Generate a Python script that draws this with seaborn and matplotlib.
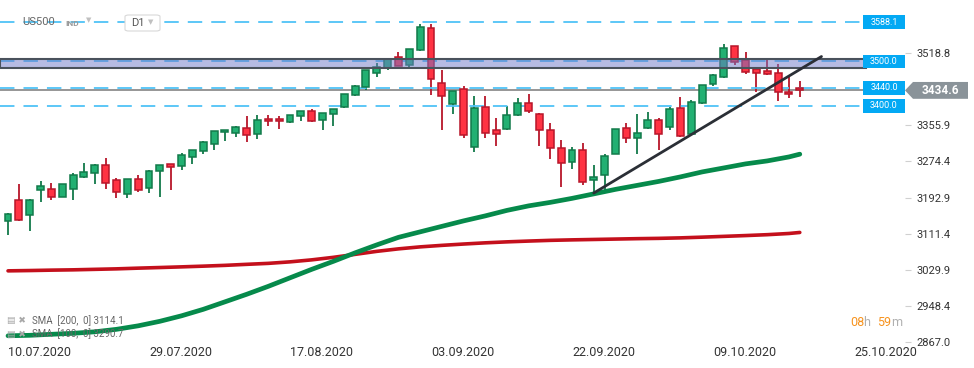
import numpy as np
import pandas as pd
import seaborn as sns
import matplotlib.pyplot as plt
import matplotlib.transforms as mtransforms
from matplotlib.patches import Rectangle, Polygon, FancyBboxPatch

# US500 D1 candles
opens = [3141, 3188, 3153, 3210, 3212, 3194, 3212, 3239, 3248, 3266,
         3232, 3200, 3234, 3214, 3252, 3268, 3264, 3284, 3297, 3313,
         3340, 3338, 3349, 3336, 3370, 3370, 3363, 3376, 3388, 3367,
         3381, 3397, 3424, 3442, 3473, 3485, 3509, 3491, 3525, 3575,
         3451, 3403, 3437, 3306, 3397, 3345, 3347, 3379, 3406, 3381,
         3345, 3304, 3273, 3300, 3232, 3243, 3291, 3349, 3327, 3349,
         3367, 3352, 3394, 3336, 3406, 3448, 3464, 3534, 3503, 3482,
         3478, 3473, 3430, 3440]
highs = [3158, 3224, 3189, 3230, 3226, 3223, 3248, 3270, 3268, 3282,
         3237, 3235, 3243, 3255, 3266, 3269, 3293, 3300, 3320, 3343,
         3345, 3354, 3376, 3379, 3379, 3376, 3379, 3389, 3392, 3384,
         3393, 3427, 3446, 3481, 3496, 3508, 3521, 3528, 3584, 3584,
         3480, 3434, 3444, 3421, 3421, 3372, 3399, 3417, 3426, 3383,
         3361, 3322, 3306, 3315, 3266, 3291, 3348, 3361, 3381, 3385,
         3372, 3397, 3419, 3412, 3447, 3471, 3539, 3535, 3521, 3484,
         3505, 3494, 3464, 3455]
lows = [3109, 3139, 3118, 3182, 3188, 3193, 3188, 3238, 3224, 3213,
        3191, 3191, 3206, 3202, 3193, 3211, 3255, 3269, 3290, 3299,
        3321, 3329, 3319, 3324, 3355, 3348, 3362, 3365, 3364, 3345,
        3355, 3394, 3421, 3435, 3464, 3480, 3489, 3482, 3523, 3424,
        3346, 3381, 3327, 3295, 3327, 3309, 3346, 3376, 3383, 3309,
        3279, 3216, 3257, 3221, 3203, 3210, 3290, 3315, 3291, 3348,
        3300, 3345, 3329, 3334, 3405, 3444, 3463, 3491, 3471, 3430,
        3469, 3410, 3417, 3419]
closes = [3156, 3143, 3187, 3219, 3194, 3223, 3243, 3250, 3266, 3225,
          3205, 3234, 3210, 3252, 3266, 3261, 3288, 3300, 3318, 3342,
          3345, 3351, 3333, 3367, 3365, 3365, 3379, 3388, 3365, 3383,
          3392, 3426, 3444, 3480, 3487, 3505, 3490, 3527, 3577, 3460,
          3421, 3433, 3333, 3394, 3338, 3336, 3379, 3406, 3388, 3345,
          3304, 3270, 3300, 3228, 3239, 3286, 3347, 3327, 3338, 3367,
          3336, 3392, 3331, 3408, 3446, 3469, 3530, 3498, 3476, 3473,
          3471, 3430, 3426, 3434.6]

date_labels = ['10.07.2020', '29.07.2020', '17.08.2020', '03.09.2020',
               '22.09.2020', '09.10.2020', '25.10.2020']
date_pos = [0, 13, 26, 39, 52, 65, 78]
price_ticks = [2867.0, 2948.4, 3029.9, 3111.4, 3192.9, 3274.4, 3355.9, 3518.8]

# moving averages, read every 2nd bar
sma_idx = list(range(0, 73, 2)) + [73]
sma100 = [2881.0, 2882.1, 2884.4, 2886.6, 2890.0, 2895.6, 2903.5, 2913.7, 2926.1, 2940.7,
          2957.6, 2974.6, 2992.6, 3011.8, 3030.9, 3049.0, 3068.1, 3086.1, 3103.1, 3115.5,
          3127.9, 3140.2, 3151.5, 3163.9, 3174.1, 3182.0, 3191.0, 3201.1, 3211.3, 3220.3,
          3229.3, 3239.5, 3250.7, 3259.7, 3268.8, 3275.5, 3284.5, 3290.7]
sma200 = [3027.5, 3028.2, 3029.1, 3029.8, 3030.9, 3032.0, 3033.6, 3035.0, 3036.5, 3038.1,
          3039.9, 3042.2, 3044.4, 3047.8, 3052.3, 3058.0, 3064.7, 3071.5, 3077.1, 3081.6,
          3085.0, 3088.0, 3090.7, 3092.9, 3094.7, 3096.3, 3097.4, 3098.3, 3099.2, 3100.1,
          3100.8, 3101.9, 3103.5, 3105.3, 3107.1, 3109.1, 3111.8, 3114.1]

levels = [3588.1, 3500.0, 3440.0, 3400.0]
zone = [3485.0, 3505.0]
trend_idx = [54, 75]
trend_px = [3203, 3511]
last_price = 3434.6

sns.set_style('white')
plt.rcParams['font.family'] = ['Roboto', 'DejaVu Sans']

W, H = 974, 368
fig = plt.figure(figsize=(W / 100, H / 100), dpi=100)
ax = fig.add_axes([0, 26 / H, 905 / W, 342 / H])

df = pd.DataFrame({'o': opens, 'h': highs, 'l': lows, 'c': closes})
df['i'] = np.arange(len(df))
up = df['c'] >= df['o']
fill = np.where(up, '#22b072', '#ff3343')
edge = np.where(up, '#127a4a', '#b8162a')

# SMAs
line_kw = dict(solid_capstyle='round', solid_joinstyle='round')
sns.lineplot(x=sma_idx, y=sma200, color='#c4101c', lw=2.6, ax=ax, zorder=2, **line_kw)
sns.lineplot(x=sma_idx, y=sma100, color='#068a4b', lw=3.4, ax=ax, zorder=2, **line_kw)

# candles
ax.vlines(df['i'], df['l'], df['h'], colors=edge, lw=1.3, zorder=3)
body_lo = np.minimum(df['o'], df['c'])
body_h = np.maximum(np.abs(df['c'] - df['o']), 2.0)
ax.bar(df['i'], body_h, bottom=body_lo, width=0.64, color=fill, edgecolor=edge,
       linewidth=1.1, zorder=4)

# last price line
ax.axhline(last_price, color='#8e8e8e', lw=1.3, zorder=2)

# horizontal levels
box_x0 = 863 / 905
for lv in levels:
    ax.axhline(lv, xmin=0, xmax=box_x0, color='#4fc3f7', lw=1.3,
               linestyle=(0, (8, 5)), zorder=3)

# resistance zone
blend = mtransforms.blended_transform_factory(ax.transAxes, ax.transData)
ax.add_patch(Rectangle((0, zone[0]), 866 / 905, zone[1] - zone[0], transform=blend,
                       facecolor=(0.435, 0.475, 0.79, 0.5), edgecolor='#4a525c',
                       lw=1.5, zorder=5))

# trendline
sns.lineplot(x=trend_idx, y=trend_px, color='#2b2f36', lw=2.0, ax=ax, zorder=6)

# level labels
for lv in levels:
    ax.add_patch(Rectangle((box_x0, lv - 15.5), 42 / 905, 31, transform=blend,
                           facecolor='#03a9f4', edgecolor='none', zorder=7, clip_on=False))
    ax.text(box_x0 + 21 / 905, lv, f'{lv:.1f}', transform=blend, ha='center', va='center',
            fontsize=6.5, color='white', zorder=8)

# current price tag
tag = Polygon([(1.0, last_price), (8 / 905 + 1.0, last_price + 19),
               (63 / 905 + 1.0, last_price + 19), (63 / 905 + 1.0, last_price - 19),
               (8 / 905 + 1.0, last_price - 19)], closed=True, transform=blend,
              facecolor='#8a9399', edgecolor='none', clip_on=False, zorder=7)
ax.add_patch(tag)
ax.text(1.0 + 35 / 905, last_price, f'{last_price:.1f}', transform=blend, ha='center',
        va='center', fontsize=8.5, fontweight='bold', color='white', zorder=8)

# axes
ax.set_xlim(-0.74, 82.7)
ax.set_ylim(2867.0, 3638.5)
for s in ax.spines.values():
    s.set_visible(False)
ax.yaxis.tick_right()
ax.set_yticks(price_ticks)
ax.set_yticklabels([f'{t:.1f}' for t in price_ticks])
ax.tick_params(axis='y', length=4, color='#d0d0d0', labelcolor='#333333', labelsize=8, pad=4)
ax.set_xticks(date_pos)
ax.set_xticklabels(date_labels)
ax.tick_params(axis='x', length=3, color='#d0d0d0', labelcolor='#333333', labelsize=9, pad=0)
for lab in ax.get_xticklabels():
    lab.set_ha('left')
ax.set_xlabel('')
ax.set_ylabel('')
ax.grid(False)


def px(x, y):
    return x / W, 1 - y / H


# header
fig.text(*px(22, 22), 'US500', fontsize=8, color='#666666', va='center', zorder=9)
fig.text(*px(65, 23), 'IND', fontsize=6, color='#9a9a9a', fontweight='bold', va='center')
fig.text(*px(86, 20), '▼', fontsize=5, color='#c0c0c0', va='center', family='DejaVu Sans')
fig.patches.append(FancyBboxPatch(px(125, 31), 35 / W, 16 / H,
                                  boxstyle='round,pad=0,rounding_size=0.004',
                                  transform=fig.transFigure, facecolor='white',
                                  edgecolor='#d8d8d8', lw=0.8, zorder=8))
fig.text(*px(131, 23), 'D1', fontsize=8, color='#555555', va='center', zorder=9)
fig.text(*px(148, 22), '▼', fontsize=5, color='#c0c0c0', va='center', family='DejaVu Sans',
         zorder=9)

# legend
fig.text(*px(7, 321), '▤ ✖', fontsize=6.5, color='#a8a8a8', va='center', family='DejaVu Sans')
fig.text(*px(32, 321), 'SMA  [200,  0] 3114.1', fontsize=7, color='#666666', va='center')
fig.text(*px(7, 334), '▤ ✖', fontsize=6.5, color='#a8a8a8', va='center', family='DejaVu Sans')
fig.text(*px(32, 334), 'SMA  [100,  0] 3290.7', fontsize=7, color='#666666', va='center')

# countdown
fig.text(*px(850, 323), '08', fontsize=9, color='#f7931e', va='center')
fig.text(*px(863, 323), 'h', fontsize=9, color='#b0b0b0', va='center')
fig.text(*px(877, 323), '59', fontsize=9, color='#f7931e', va='center')
fig.text(*px(891, 323), 'm', fontsize=9, color='#b0b0b0', va='center')

fig.savefig('out.png', dpi=100)
